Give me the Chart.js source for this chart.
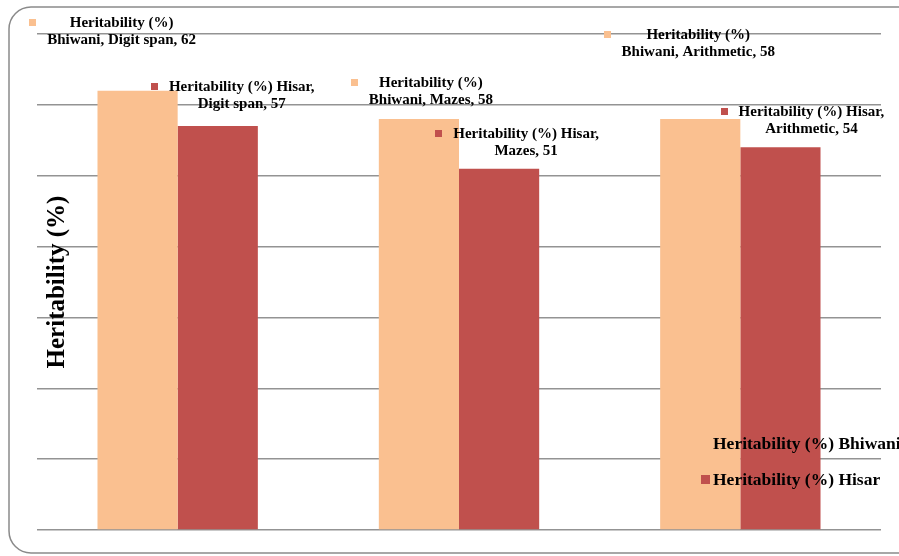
<!DOCTYPE html>
<html>
<head>
<meta charset="utf-8">
<script src="https://cdn.jsdelivr.net/npm/chart.js@4/dist/chart.umd.min.js"></script>
<style>
    body { margin: 0; background: #ffffff; }
    #heritability-graph { display: block; }
</style>
</head>
<body>
<canvas id="heritability-graph" width="899" height="556"></canvas>
<script>
// chart data
const categories = ["Digit span", "Mazes", "Arithmetic"];
const seriesNames = ["Heritability (%) Bhiwani", "Heritability (%) Hisar"];
const bhiwaniValues = [62, 58, 58];
const hisarValues = [57, 51, 54];
const yMin = 0;
const yMax = 70;
const yStep = 10;
const yTitle = "Heritability (%)";

// label layout, offsets from the top centre of each bar
const labelSplit = [2, 3];
const labelOffsets = [
    [[-16, -68], [12, -36], [-2, -84]],
    [[24, -39], [27, -35], [31, -35]]
];

const colors = ["#FAC090", "#C0504D"];
const serif = "'Liberation Serif', 'Times New Roman', serif";


function labelLines(ds, i) {
    let words = (seriesNames[ds] + ", " + categories[i] + ", " + (ds == 0 ? bhiwaniValues : hisarValues)[i]).split(" ");
    return [words.slice(0, labelSplit[ds]).join(" "), words.slice(labelSplit[ds]).join(" ")];
}

const framePlugin = {
    id: "frame",
    beforeDraw(chart) {
        let ctx = chart.ctx;
        let x = 9, y = 7, w = 920, h = 546, r = 22;
        ctx.save();
        ctx.strokeStyle = "#8a8a8a";
        ctx.lineWidth = 1.5;
        ctx.beginPath();
        ctx.moveTo(x + r, y);
        ctx.lineTo(x + w - r, y);
        ctx.arcTo(x + w, y, x + w, y + r, r);
        ctx.lineTo(x + w, y + h - r);
        ctx.arcTo(x + w, y + h, x + w - r, y + h, r);
        ctx.lineTo(x + r, y + h);
        ctx.arcTo(x, y + h, x, y + h - r, r);
        ctx.lineTo(x, y + r);
        ctx.arcTo(x, y, x + r, y, r);
        ctx.stroke();
        ctx.restore();
    }
};

const labelPlugin = {
    id: "barLabels",
    afterDatasetsDraw(chart) {
        let ctx = chart.ctx;
        ctx.save();
        ctx.font = "bold 15px " + serif;
        ctx.textAlign = "center";
        ctx.textBaseline = "middle";
        for (let ds = 0; ds < 2; ds++) {
            let meta = chart.getDatasetMeta(ds);
            meta.data.forEach(function(bar, i) {
                let lines = labelLines(ds, i);
                let cx = bar.x + labelOffsets[ds][i][0];
                let cy = bar.y + labelOffsets[ds][i][1];
                let wide = Math.max(ctx.measureText(lines[0]).width, ctx.measureText(lines[1]).width);
                ctx.fillStyle = colors[ds];
                ctx.fillRect(Math.round(cx - wide / 2 - 18), Math.round(cy - 4), 7, 7);
                ctx.fillStyle = "#000000";
                ctx.fillText(lines[0], cx, cy);
                ctx.fillText(lines[1], cx, cy + 17);
            });
        }
        ctx.restore();
    },
    afterDraw(chart) {
        let ctx = chart.ctx;
        let area = chart.chartArea;
        ctx.save();
        // y axis title, drawn over the grid
        ctx.translate(area.left + 21, (area.top + area.bottom) / 2);
        ctx.rotate(-Math.PI / 2);
        ctx.font = "bold 25px " + serif;
        ctx.textAlign = "center";
        ctx.textBaseline = "middle";
        ctx.fillStyle = "#000000";
        ctx.fillText(yTitle, 0, 0);
        ctx.restore();

        // legend
        ctx.save();
        ctx.font = "bold 17.5px " + serif;
        ctx.textAlign = "left";
        ctx.textBaseline = "middle";
        let lx = area.right - 168;
        let ly = [444, 480];
        for (let s = 0; s < 2; s++) {
            ctx.fillStyle = colors[s];
            ctx.fillRect(lx - 12, ly[s] - 5, 9, 9);
            ctx.fillStyle = "#000000";
            ctx.fillText(seriesNames[s], lx, ly[s]);
        }
        ctx.restore();
    }
};

new Chart(document.getElementById("heritability-graph").getContext("2d"), {
    type: "bar",
    data: {
        labels: categories,
        datasets: [
            {label: seriesNames[0], data: bhiwaniValues, backgroundColor: colors[0]},
            {label: seriesNames[1], data: hisarValues, backgroundColor: colors[1]}
        ]
    },
    options: {
        responsive: false,
        animation: false,
        devicePixelRatio: 1,
        categoryPercentage: 0.57,
        barPercentage: 1.0,
        layout: {padding: {left: 37, right: 18, top: 34, bottom: 26}},
        plugins: {
            legend: {display: false},
            tooltip: {enabled: false}
        },
        scales: {
            x: {
                ticks: {display: false},
                grid: {display: false, drawTicks: false},
                border: {display: false}
            },
            y: {
                min: yMin,
                max: yMax,
                ticks: {display: false, stepSize: yStep},
                grid: {color: "#939393", lineWidth: 1.5, drawTicks: false},
                border: {display: false}
            }
        }
    },
    plugins: [framePlugin, labelPlugin]
});
</script>
</body>
</html>
